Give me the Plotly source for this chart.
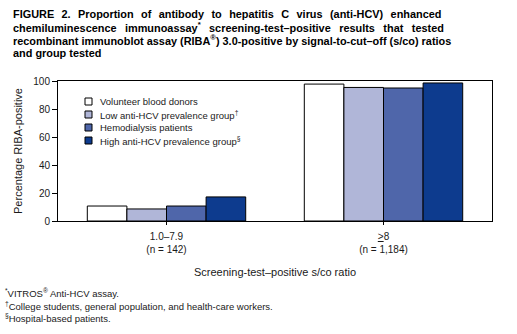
import plotly.graph_objects as go

# Signal-to-cut-off ratio categories (x axis)
categories = ["1.0\u20137.9<br>(n = 142)", "<span style='text-decoration:underline'>></span>8<br>(n = 1,184)"]

# Groups tested and their RIBA-positive percentages
groups = [
    "Volunteer blood donors",
    "Low anti-HCV prevalence group<sup>\u2020</sup>",
    "Hemodialysis patients",
    "High anti-HCV prevalence group<sup>\u00a7</sup>",
]
volunteer = [10.7, 97.8]
low_prev = [8.6, 95.4]
hemodialysis = [10.7, 95.0]
high_prev = [17.2, 98.6]
series = [volunteer, low_prev, hemodialysis, high_prev]
colors = ["#FFFFFF", "#B0B6D8", "#4F66AA", "#0D3B8E"]

y_ticks = [0, 20, 40, 60, 80, 100]

FONT = "Liberation Sans, Arial, sans-serif"
TXT = "#1a1a1a"

W, H = 517, 334
ML, MR, MT, MB = 58, 25, 81, 113
PW, PH = W - ML - MR, H - MT - MB


def px(x):
    """Pixel x -> paper x."""
    return (x - ML) / PW


def py(y):
    """Pixel y (from top) -> paper y."""
    return (H - MB - y) / PH


def widen(line, pad):
    """Stretch word gaps with extra thin spaces so the line fills the width."""
    return line.replace(" ", " " + pad)


fig = go.Figure()
for name, vals, col in zip(groups, series, colors):
    fig.add_trace(go.Bar(
        x=categories, y=vals, name=name,
        marker=dict(color=col, line=dict(color="black", width=1)),
        showlegend=False,
    ))

fig.update_layout(
    width=W, height=H,
    margin=dict(l=ML, r=MR, t=MT, b=MB),
    paper_bgcolor="white", plot_bgcolor="white",
    barmode="group", bargap=0.27, bargroupgap=0,
    font=dict(family=FONT, size=10, color=TXT),
)
fig.update_xaxes(
    showline=True, linecolor="black", linewidth=1, mirror=True,
    ticks="outside", ticklen=3, tickcolor="black",
    ticklabelstandoff=3,
    tickfont=dict(size=10, color=TXT),
    showgrid=False,
    title=dict(text="Screening-test\u2013positive s/co ratio",
               font=dict(size=11, color=TXT), standoff=14),
)
fig.update_yaxes(
    range=[0, 100], tickvals=y_ticks,
    showline=True, linecolor="black", linewidth=1, mirror=True,
    ticks="outside", ticklen=5, tickcolor="black",
    tickfont=dict(size=10, color=TXT),
    showgrid=False, zeroline=False,
    title=dict(text="Percentage RIBA-positive", font=dict(size=11, color=TXT), standoff=8),
)

# Legend drawn inside the plot area
leg_x0, leg_y0, leg_dy = 85, 101.5, 13
for i, (name, col) in enumerate(zip(groups, colors)):
    yc = leg_y0 + i * leg_dy
    fig.add_shape(type="rect", xref="paper", yref="paper",
                  x0=px(leg_x0), x1=px(leg_x0 + 7),
                  y0=py(yc + 3.5), y1=py(yc - 3.5),
                  fillcolor=col, line=dict(color="black", width=1))
    fig.add_annotation(xref="paper", yref="paper",
                       x=px(leg_x0 + 13), y=py(yc),
                       text=name, showarrow=False, xanchor="left", yanchor="middle",
                       font=dict(size=9.5, color=TXT))

# Title block (justified look: first two lines get wider word gaps)
title_lines = [
    widen("FIGURE 2. Proportion of antibody to hepatitis C virus (anti-HCV) enhanced", "\u2009\u2009"),
    widen("chemiluminescence immunoassay<sup>*</sup> screening-test\u2013positive results that tested", "\u2002"),
    "recombinant immunoblot assay (RIBA<sup>\u00ae</sup>) 3.0-positive by signal-to-cut\u2013off (s/co) ratios",
    "and group tested",
]
for i, line in enumerate(title_lines):
    fig.add_annotation(xref="paper", yref="paper", x=px(11), y=py(14.5 + i * 12.8),
                       text="<b>" + line + "</b>", showarrow=False,
                       xanchor="left", yanchor="middle",
                       font=dict(size=10.9, color="black"))

# Footnotes
notes = [
    "<sup>*</sup>VITROS<sup>\u00ae</sup> Anti-HCV assay.",
    "<sup>\u2020</sup>College students, general population, and health-care workers.",
    "<sup>\u00a7</sup>Hospital-based patients.",
]
for i, line in enumerate(notes):
    fig.add_annotation(xref="paper", yref="paper", x=px(3), y=py(293 + i * 12.5),
                       text=line, showarrow=False, xanchor="left", yanchor="middle",
                       font=dict(size=9.5, color=TXT))

fig.write_html("out.html")
